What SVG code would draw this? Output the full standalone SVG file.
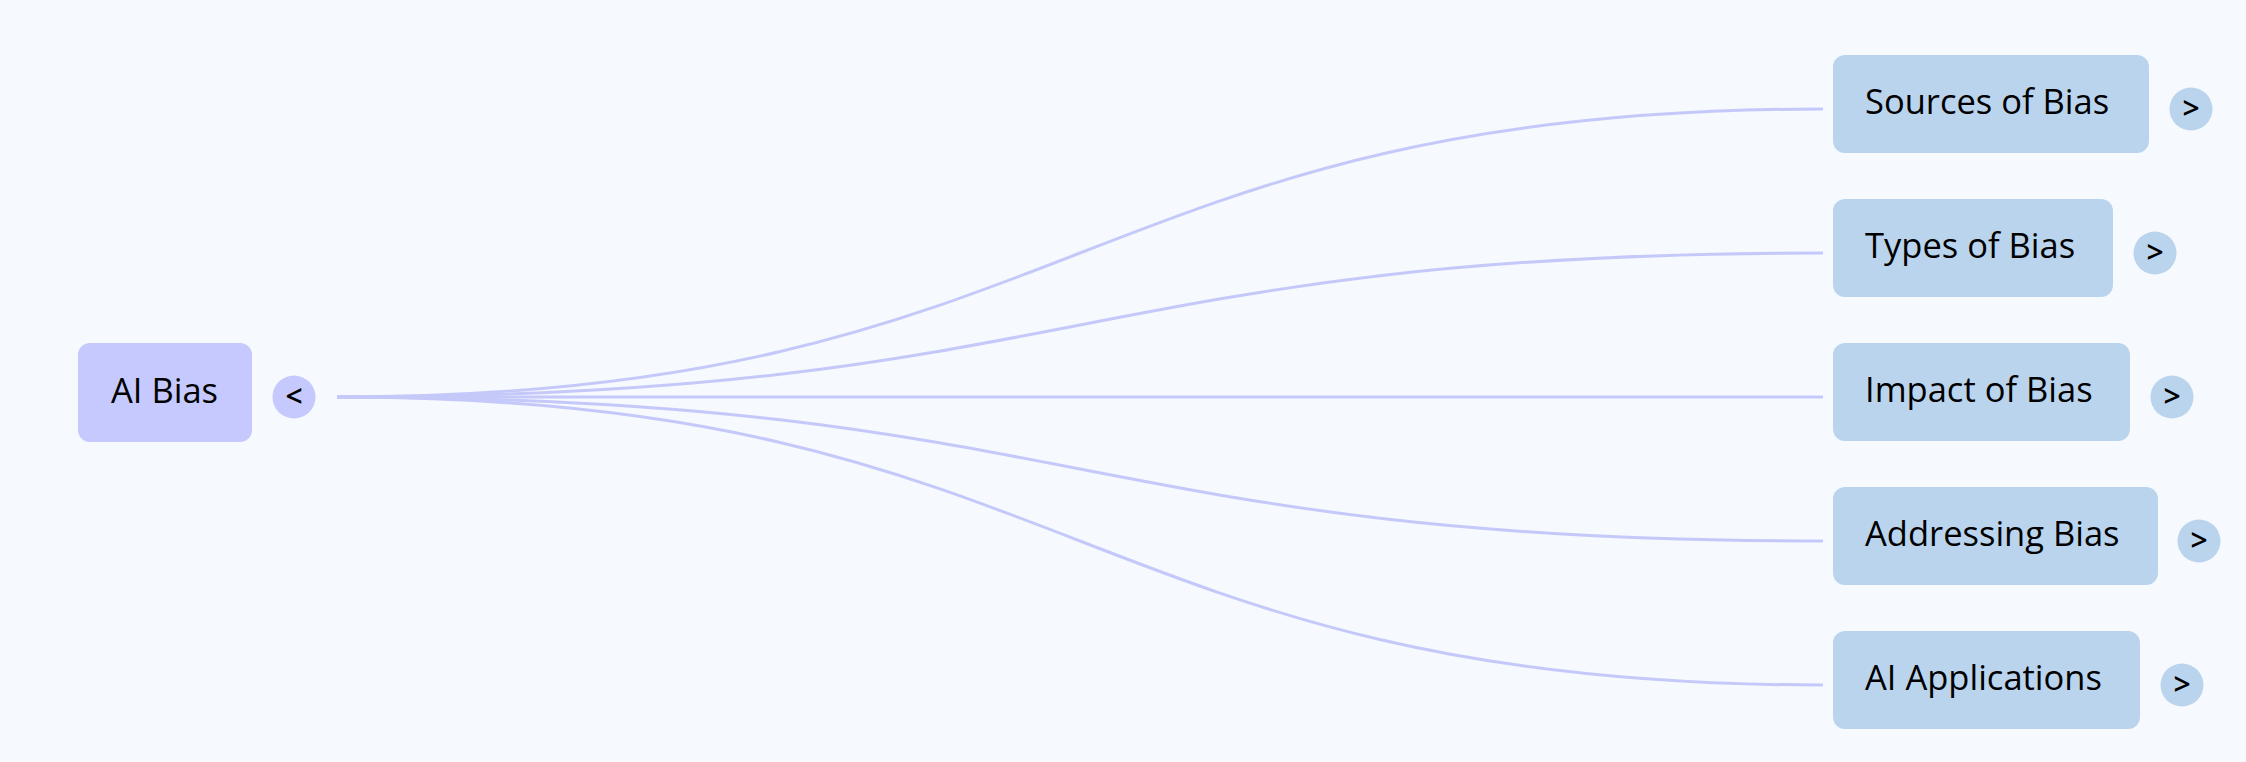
<svg xmlns="http://www.w3.org/2000/svg" width="2246" height="762" viewBox="0 0 2246 762">
<style>
.bg{fill:#f6f9fe}
.root rect{fill:#c5c9fd}
.root circle{fill:#c5c9fd}
.child rect{fill:#bad4ee}
.child circle{fill:#bad4ee}
text{font-family:"Open Sans","Liberation Sans",sans-serif;fill:#000}
.lbl{font-size:34.5px;font-weight:500}
.chev{font-size:30px;font-weight:600;text-anchor:middle}
.edges path{fill:none;stroke:#c5c9fa;stroke-width:3}
</style>
<rect class="bg" x="0" y="0" width="2246" height="762"/>
<g class="edges">
<path d="M337,397 C1080,397 1080,109 1823,109"/>
<path d="M337,397 C1080,397 1080,253 1823,253"/>
<path d="M337,397 L1823,397"/>
<path d="M337,397 C1080,397 1080,541 1823,541"/>
<path d="M337,397 C1080,397 1080,685 1823,685"/>
</g>
<g id="ai-bias" class="root">
<rect x="78" y="343" width="174" height="99" rx="12"/>
<text class="lbl" x="111" y="403">AI Bias</text>
<circle cx="294" cy="397" r="21.5"/>
<text class="chev" x="294" y="407">&lt;</text>
</g>
<g id="sources" class="child">
<rect x="1833" y="55" width="316" height="98" rx="12"/>
<text class="lbl" x="1865" y="114">Sources of Bias</text>
<circle cx="2191" cy="109" r="21.5"/>
<text class="chev" x="2191" y="119">&gt;</text>
</g>
<g id="types" class="child">
<rect x="1833" y="199" width="280" height="98" rx="12"/>
<text class="lbl" x="1865" y="258">Types of Bias</text>
<circle cx="2155" cy="253" r="21.5"/>
<text class="chev" x="2155" y="263">&gt;</text>
</g>
<g id="impact" class="child">
<rect x="1833" y="343" width="297" height="98" rx="12"/>
<text class="lbl" x="1865" y="402">Impact of Bias</text>
<circle cx="2172" cy="397" r="21.5"/>
<text class="chev" x="2172" y="407">&gt;</text>
</g>
<g id="addressing" class="child">
<rect x="1833" y="487" width="325" height="98" rx="12"/>
<text class="lbl" x="1865" y="546">Addressing Bias</text>
<circle cx="2199" cy="541" r="21.5"/>
<text class="chev" x="2199" y="551">&gt;</text>
</g>
<g id="applications" class="child">
<rect x="1833" y="631" width="307" height="98" rx="12"/>
<text class="lbl" x="1865" y="690">AI Applications</text>
<circle cx="2182" cy="685" r="21.5"/>
<text class="chev" x="2182" y="695">&gt;</text>
</g>
</svg>
